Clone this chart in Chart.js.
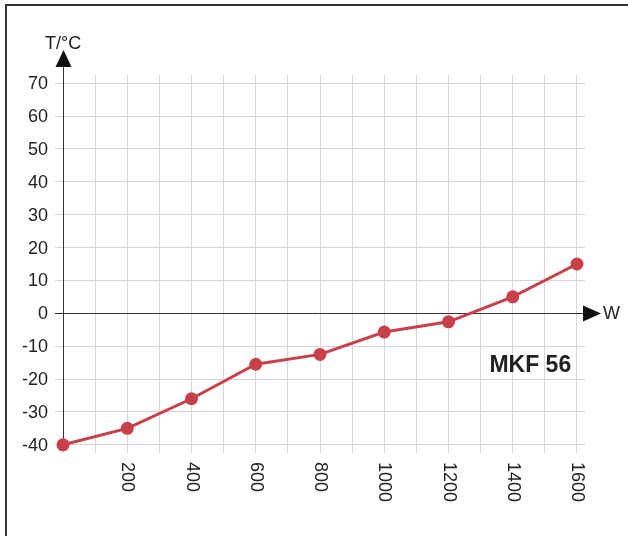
<!DOCTYPE html>
<html>
<head>
<meta charset="utf-8">
<script src="https://cdn.jsdelivr.net/npm/chart.js@4/dist/chart.umd.min.js"></script>
<style>
  html, body { margin: 0; padding: 0; background: #fff; }
  canvas { display: block; }
</style>
</head>
<body>
<canvas id="mkfChart" width="628" height="536"></canvas>
<script>
// Power (W) vs temperature (°C) for MKF 56
const powerW = [0, 200, 400, 600, 800, 1000, 1200, 1400, 1600];
const tempC = [-40, -35, -26, -15.5, -12.5, -5.7, -2.6, 5, 15];

const xGridValues = [0, 100, 200, 300, 400, 500, 600, 700, 800, 900, 1000, 1100, 1200, 1300, 1400, 1500, 1600];
const xTickLabels = [200, 400, 600, 800, 1000, 1200, 1400, 1600];
const yTickLabels = [-40, -30, -20, -10, 0, 10, 20, 30, 40, 50, 60, 70];

const FONT = '"Liberation Sans", Arial, Helvetica, sans-serif';
const TEXT_COLOR = '#222';
const LINE_COLOR = '#c8404a';

// Axes with arrows, tick labels, frame and the model label
const axesPlugin = {
    id: 'axesPlugin',
    beforeDatasetsDraw(chart) {
        const ctx = chart.ctx;
        const x = chart.scales.x;
        const y = chart.scales.y;
        const x0 = x.getPixelForValue(0);
        const y0 = y.getPixelForValue(0);
        ctx.save();
        ctx.strokeStyle = '#333';
        ctx.fillStyle = '#111';
        ctx.lineWidth = 1;

        // vertical axis
        ctx.beginPath();
        ctx.moveTo(x0 + 0.5, 66);
        ctx.lineTo(x0 + 0.5, y.getPixelForValue(-40));
        ctx.stroke();
        ctx.beginPath();
        ctx.moveTo(x0 + 0.5, 50);
        ctx.lineTo(x0 - 7.5, 67);
        ctx.lineTo(x0 + 8.5, 67);
        ctx.closePath();
        ctx.fill();

        // horizontal axis at 0
        ctx.beginPath();
        ctx.moveTo(chart.chartArea.left, Math.round(y0) + 0.5);
        ctx.lineTo(584, Math.round(y0) + 0.5);
        ctx.stroke();
        ctx.beginPath();
        ctx.moveTo(601, Math.round(y0) + 0.5);
        ctx.lineTo(583, Math.round(y0) - 7.5);
        ctx.lineTo(583, Math.round(y0) + 8.5);
        ctx.closePath();
        ctx.fill();
        ctx.restore();
    },
    afterDraw(chart) {
        const ctx = chart.ctx;
        const x = chart.scales.x;
        const y = chart.scales.y;
        ctx.save();
        ctx.fillStyle = TEXT_COLOR;
        ctx.font = '18px ' + FONT;

        // y tick labels
        ctx.textAlign = 'right';
        ctx.textBaseline = 'middle';
        yTickLabels.forEach(v => {
            ctx.fillText(String(v), 48, y.getPixelForValue(v) + 1);
        });

        // x tick labels, rotated clockwise
        xTickLabels.forEach(v => {
            ctx.save();
            ctx.translate(x.getPixelForValue(v), 462);
            ctx.rotate(Math.PI / 2);
            ctx.textAlign = 'left';
            ctx.textBaseline = 'middle';
            ctx.fillText(String(v), 0, 0);
            ctx.restore();
        });

        // axis titles
        ctx.textAlign = 'left';
        ctx.textBaseline = 'alphabetic';
        ctx.fillText('T/°C', 45, 49);
        ctx.textBaseline = 'middle';
        ctx.fillText('W', 603, y.getPixelForValue(0) + 1);

        // model name
        ctx.font = 'bold 23px ' + FONT;
        ctx.textAlign = 'right';
        ctx.textBaseline = 'alphabetic';
        ctx.fillText('MKF 56', x.getPixelForValue(1582), y.getPixelForValue(-18));

        // frame (left and top edges)
        ctx.fillStyle = '#333';
        ctx.fillRect(5, 4, 2, 536);
        ctx.fillRect(5, 4, 623, 2);
        ctx.restore();
    }
};

new Chart(document.getElementById('mkfChart'), {
    type: 'line',
    data: {
        labels: powerW,
        datasets: [{
            data: powerW.map((w, i) => ({ x: w, y: tempC[i] })),
            borderColor: LINE_COLOR,
            backgroundColor: LINE_COLOR,
            borderWidth: 3,
            pointRadius: 6.5,
            pointBorderWidth: 0,
            pointBackgroundColor: LINE_COLOR,
            tension: 0,
            fill: false,
            clip: false
        }]
    },
    options: {
        responsive: false,
        devicePixelRatio: 1,
        animation: false,
        layout: {
            padding: { left: 55, top: 75, right: 43, bottom: 83 }
        },
        plugins: {
            legend: { display: false },
            tooltip: { enabled: false },
            title: { display: false }
        },
        scales: {
            x: {
                type: 'linear',
                min: -25,
                max: 1625,
                afterBuildTicks: scale => {
                    scale.ticks = xGridValues.map(v => ({ value: v }));
                },
                ticks: { display: false },
                grid: { color: '#d6d6d6', lineWidth: 1, drawTicks: false },
                border: { display: false }
            },
            y: {
                type: 'linear',
                min: -42.5,
                max: 72.5,
                afterBuildTicks: scale => {
                    scale.ticks = yTickLabels.map(v => ({ value: v }));
                },
                ticks: { display: false },
                grid: { color: '#d6d6d6', lineWidth: 1, drawTicks: false },
                border: { display: false }
            }
        }
    },
    plugins: [axesPlugin]
});
</script>
</body>
</html>
